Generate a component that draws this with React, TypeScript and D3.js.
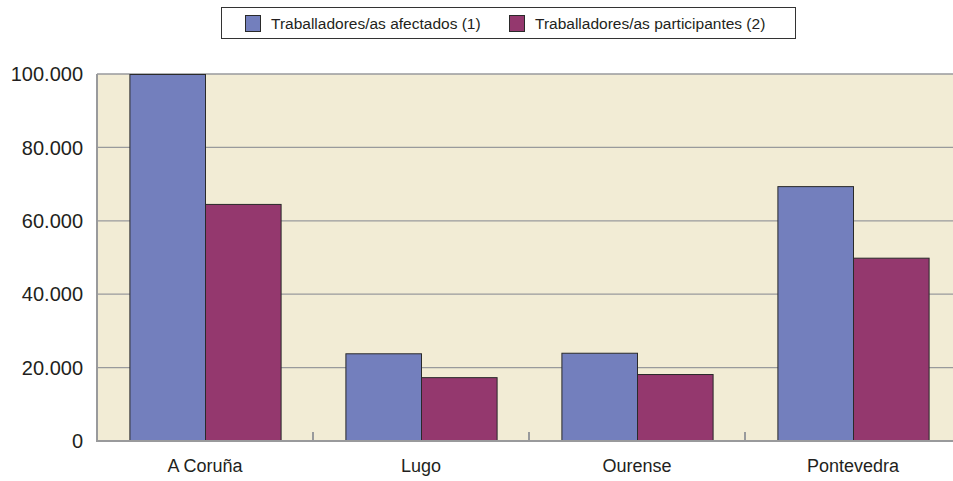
import React, { useRef, useEffect } from 'react';
import * as d3 from 'd3';

const categories = ['A Coruña', 'Lugo', 'Ourense', 'Pontevedra'];
const seriesNames = ['Traballadores/as afectados (1)', 'Traballadores/as participantes (2)'];
const afectados = [100000, 23900, 24050, 69450];
const participantes = [64600, 17400, 18250, 49950];
const yTicks = [0, 20000, 40000, 60000, 80000, 100000];

const colors = ['#737fbd', '#94386e'];

function BarChart() {
  const svgRef = useRef<SVGSVGElement | null>(null);

  useEffect(() => {
    const width = 953;
    const height = 481;
    const left = 97;
    const right = 961; // plot area runs past the window edge
    const top = 74;
    const bottom = 441;

    const svg = d3.select(svgRef.current);
    svg.selectAll('*').remove();
    svg.attr('width', width).attr('height', height);

    const x = d3.scaleBand<string>()
      .domain(categories)
      .range([left, right])
      .paddingInner(0.3)
      .paddingOuter(0.15);

    const x1 = d3.scaleBand<number>()
      .domain([0, 1])
      .range([0, x.bandwidth()]);

    const y = d3.scaleLinear().domain([0, 100000]).range([bottom, top]);

    const fmt = d3.formatLocale({ decimal: ',', thousands: '.', grouping: [3], currency: ['', '€'] }).format(',d');

    // fondo del área
    svg.append('rect')
      .attr('x', left).attr('y', top)
      .attr('width', right - left).attr('height', bottom - top)
      .attr('fill', '#f2ecd5');

    // rejilla
    svg.append('g')
      .selectAll('line')
      .data(yTicks.filter(d => d > 0))
      .join('line')
      .attr('x1', left).attr('x2', right)
      .attr('y1', d => y(d)).attr('y2', d => y(d))
      .attr('stroke', '#999a9c')
      .attr('stroke-width', 1.3);

    // barras
    const data = categories.map((c, i) => ({ c, vals: [afectados[i], participantes[i]] }));
    const groups = svg.append('g')
      .selectAll('g')
      .data(data)
      .join('g')
      .attr('transform', d => `translate(${x(d.c)},0)`);

    groups.selectAll('rect')
      .data(d => d.vals.map((v, k) => ({ v, k })))
      .join('rect')
      .attr('x', d => (x1(d.k) as number) + 0.5)
      .attr('y', d => y(d.v) + 0.5)
      .attr('width', x1.bandwidth())
      .attr('height', d => bottom - y(d.v) - 0.5)
      .attr('fill', d => colors[d.k])
      .attr('stroke', '#2a2a2a')
      .attr('stroke-width', 1);

    // ejes
    svg.append('line')
      .attr('x1', left).attr('x2', left)
      .attr('y1', top).attr('y2', bottom + 1)
      .attr('stroke', '#999a9c').attr('stroke-width', 2);
    svg.append('line')
      .attr('x1', left - 1).attr('x2', right)
      .attr('y1', bottom).attr('y2', bottom)
      .attr('stroke', '#999a9c').attr('stroke-width', 2);

    // separadores de categoría
    const gap = (x.step() - x.bandwidth()) / 2;
    svg.append('g')
      .selectAll('line')
      .data(categories.slice(1))
      .join('line')
      .attr('x1', d => (x(d) as number) - gap)
      .attr('x2', d => (x(d) as number) - gap)
      .attr('y1', bottom - 9).attr('y2', bottom)
      .attr('stroke', '#999a9c').attr('stroke-width', 2);

    // etiquetas eje Y
    svg.append('g')
      .selectAll('text')
      .data(yTicks)
      .join('text')
      .attr('x', 83)
      .attr('y', d => y(d))
      .attr('dy', '0.36em')
      .attr('text-anchor', 'end')
      .attr('font-family', 'Liberation Sans, Arial, sans-serif')
      .attr('font-size', 20)
      .attr('fill', '#231f20')
      .text(d => fmt(d));

    // etiquetas eje X
    svg.append('g')
      .selectAll('text')
      .data(categories)
      .join('text')
      .attr('x', d => (x(d) as number) + x.bandwidth() / 2)
      .attr('y', 472)
      .attr('text-anchor', 'middle')
      .attr('font-family', 'Liberation Sans, Arial, sans-serif')
      .attr('font-size', 18)
      .attr('fill', '#231f20')
      .text(d => d);

    // leyenda
    const legend = svg.append('g');
    legend.append('rect')
      .attr('x', 221.5).attr('y', 7.5)
      .attr('width', 574).attr('height', 31)
      .attr('fill', '#fff')
      .attr('stroke', '#333')
      .attr('stroke-width', 1);

    const itemX = [245, 509];
    const items = legend.selectAll('g')
      .data(seriesNames)
      .join('g')
      .attr('transform', (d, i) => `translate(${itemX[i]},0)`);
    items.append('rect')
      .attr('x', 0.5).attr('y', 15.5)
      .attr('width', 15).attr('height', 16)
      .attr('fill', (d, i) => colors[i])
      .attr('stroke', '#2a2a2a');
    items.append('text')
      .attr('x', 26).attr('y', 28.5)
      .attr('font-family', 'Liberation Sans, Arial, sans-serif')
      .attr('font-size', 15.5)
      .attr('fill', '#231f20')
      .text(d => d);
  }, []);

  return <svg ref={svgRef} style={{ position: 'absolute', left: 0, top: 0, display: 'block' }}></svg>;
}

export default function App() {
  return <BarChart />;
}
